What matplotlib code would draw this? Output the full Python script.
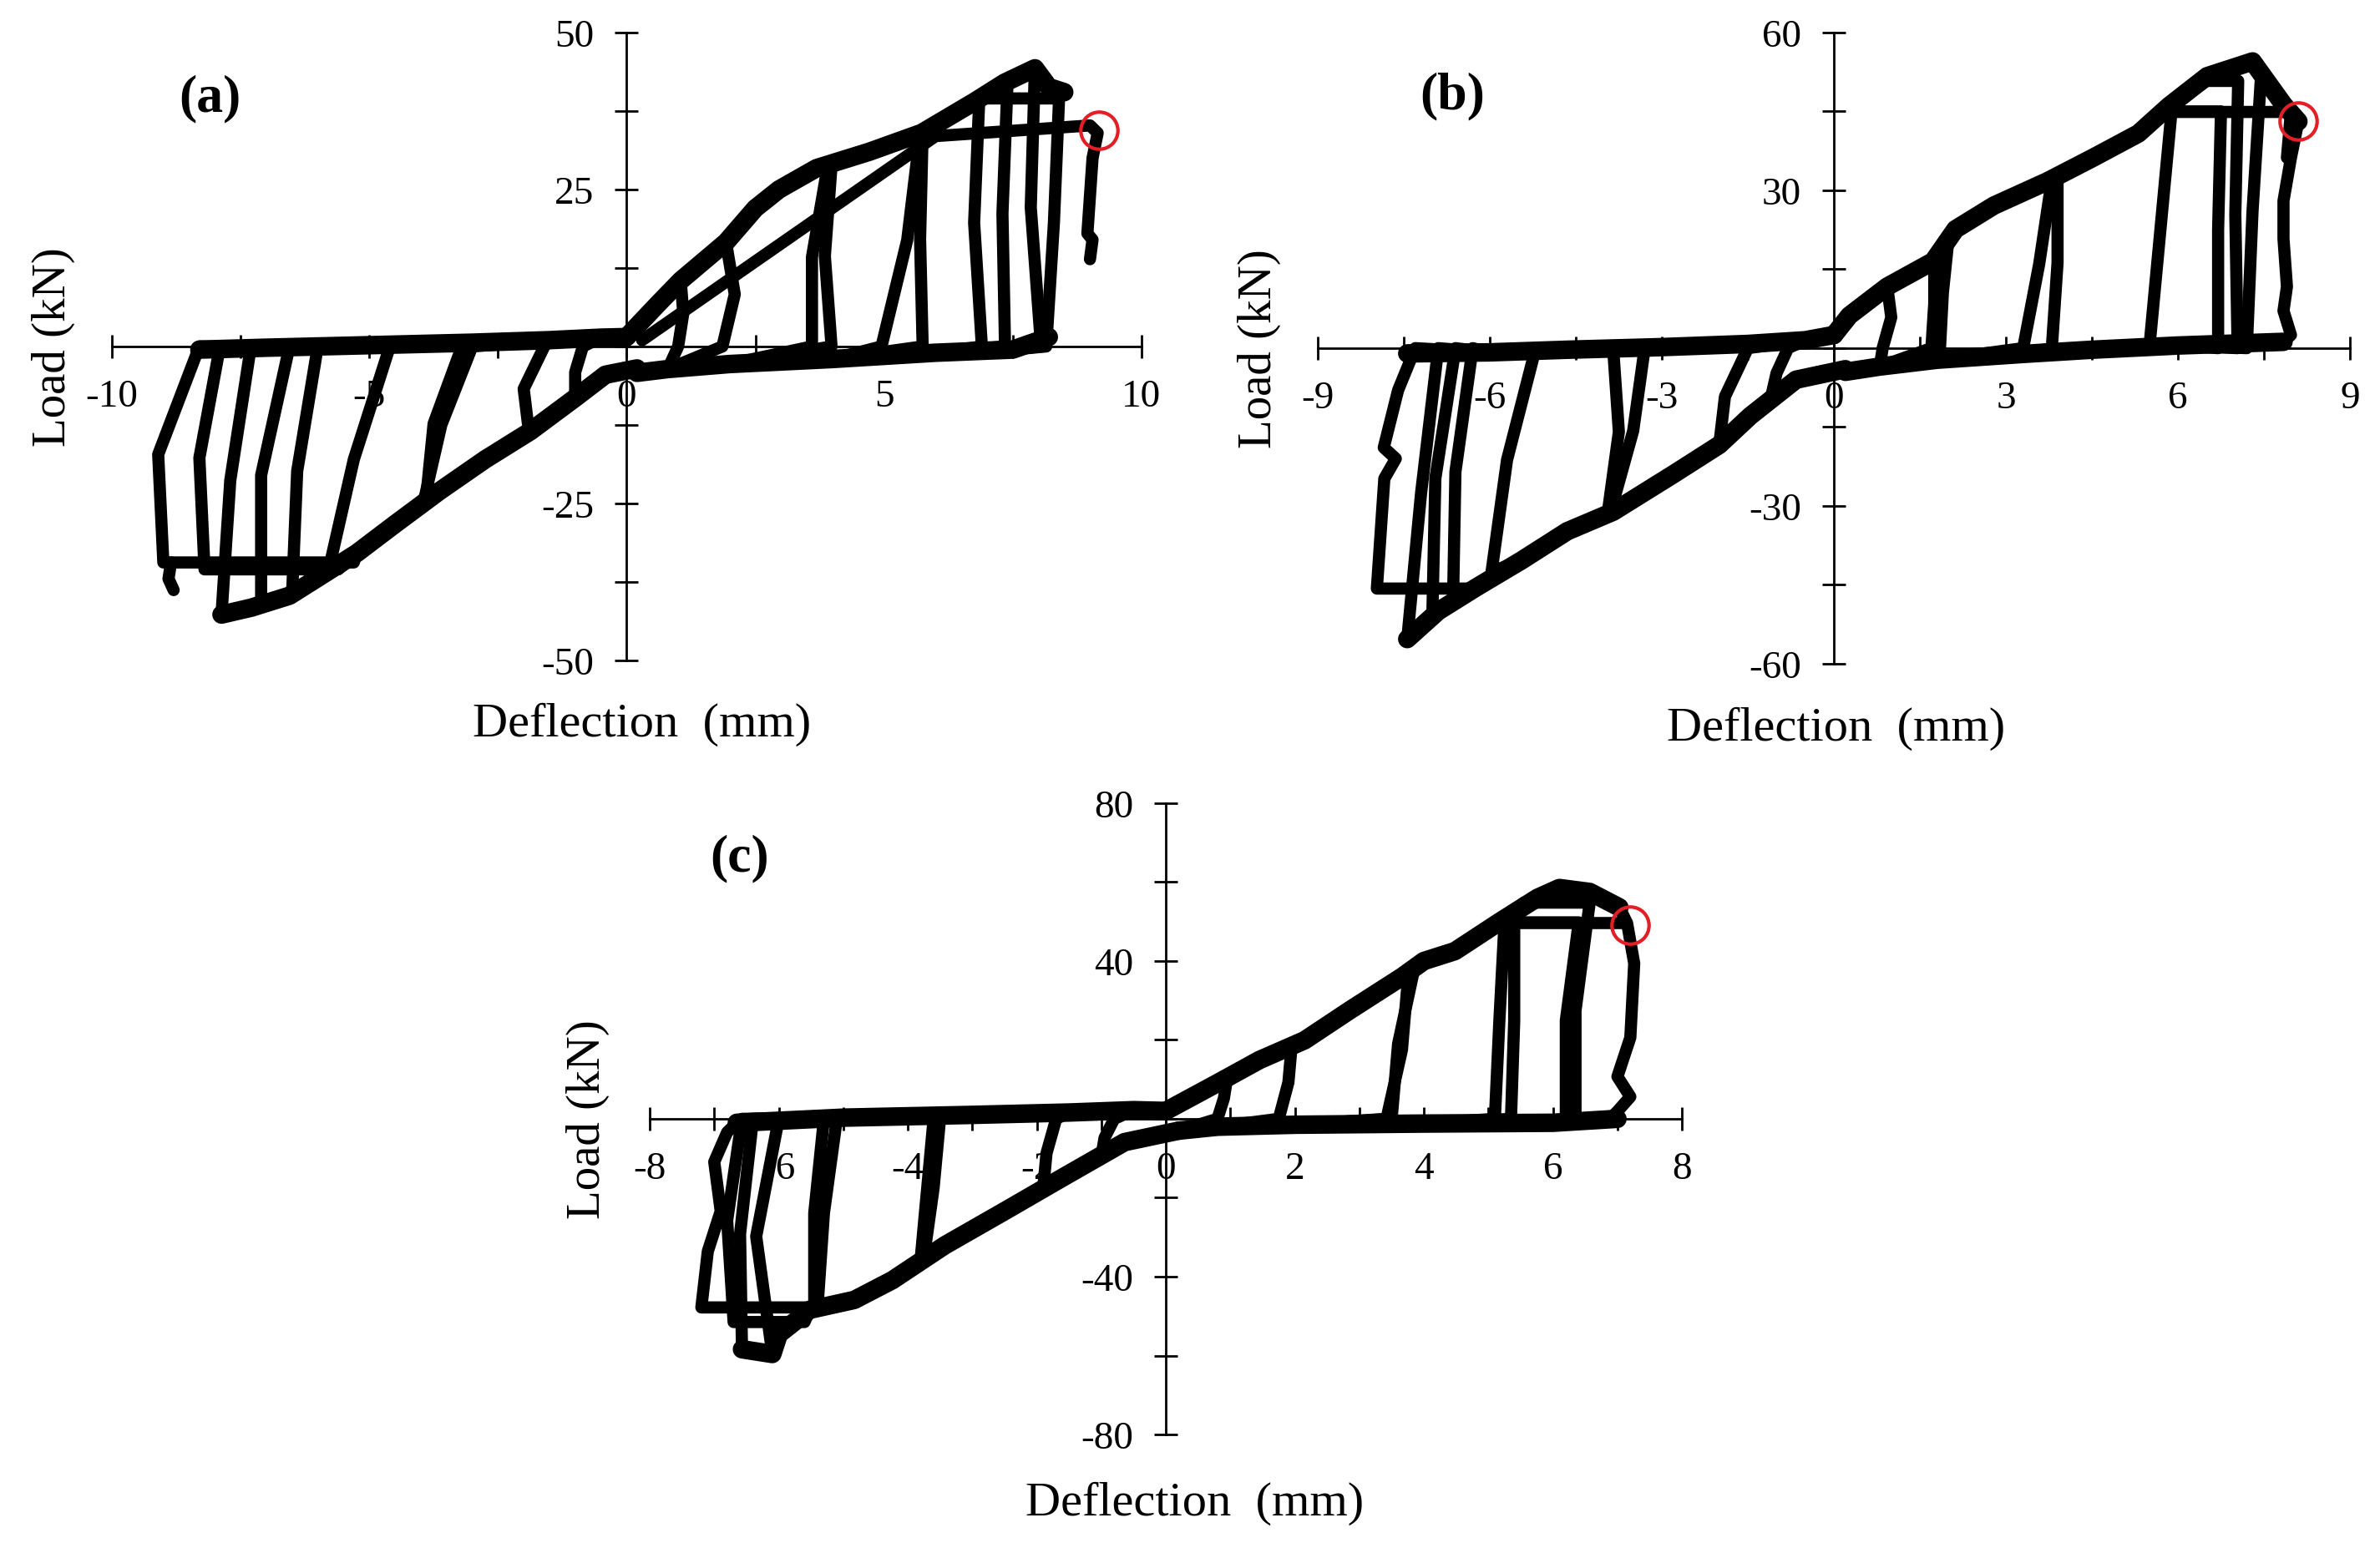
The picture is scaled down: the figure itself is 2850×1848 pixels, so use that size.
import matplotlib
matplotlib.use("Agg")
import matplotlib.pyplot as plt
from matplotlib.ticker import MultipleLocator, FuncFormatter

plt.rcParams['font.family'] = ['Liberation Serif', 'DejaVu Serif']

# ---------------- panel (a) ----------------
A_ENV_POS_X = [0.0, 0.6, 1.05, 1.93, 2.5, 2.96, 3.69, 4.71, 5.73, 6.76, 7.34, 7.93, 8.2, 8.5]
A_ENV_POS_Y = [1.5, 6.7, 10.5, 16.6, 22.0, 25.0, 28.4, 31.0, 34.0, 39.0, 42.0, 44.3, 41.3, 40.5]
A_RET_POS_X = [8.2, 7.5, 6.0, 4.0, 2.0, 0.8, 0.2]
A_RET_POS_Y = [1.5, -0.5, -1.0, -2.0, -2.8, -3.6, -4.2]
A_POS_KNEE = [1.05, 1.93, 3.9, 3.98, 5.7, 5.75, 6.85, 7.4, 7.93, 6.8]
A_POS_PEAK_X = [1.05, 1.93, 3.9, 3.98, 5.7, 5.75, 6.85, 7.4, 7.93, 8.4]
A_POS_PEAK_Y = [10.5, 16.6, 28.5, 28.8, 33.9, 34.2, 39.4, 42.3, 44.3, 39.5]
A_POS_MID_X = [1.1, 2.1, 3.6, 3.85, 5.45, 5.7, 6.75, 7.3, 7.85, 8.3]
A_POS_ZERO_X = [1.0, 1.86, 3.6, 3.98, 4.95, 5.75, 6.9, 7.35, 8.05, 8.15]
# last positive excursion: straight reload, plateau, failure
A_LAST_X = [0.3, 6.0, 9.0, 9.15, 9.05, 8.95, 9.05, 9.0]
A_LAST_Y = [1.0, 33.5, 35.2, 34.0, 30.0, 18.0, 17.0, 13.9]

A_ENV_NEG_X = [0.2, -0.41, -1.0, -1.87, -2.75, -3.63, -4.5, -5.24, -5.97, -6.55, -7.29, -7.87]
A_ENV_NEG_Y = [-3.5, -4.5, -8.2, -13.5, -18.0, -23.0, -28.3, -32.9, -36.7, -39.7, -41.6, -42.7]
A_RET_NEG_X = [-8.3, -7.0, -5.0, -3.0, -1.5, -0.5, 0.0]
A_RET_NEG_Y = [-0.5, -0.2, 0.2, 0.6, 1.0, 1.4, 1.5]
A_NEG_KNEE = [-1.0, -1.9, -3.9, -3.95, -5.8, -6.5, -7.1, -7.87, -5.6, -5.3]
A_NEG_PEAK_X = [-1.0, -1.9, -3.9, -3.95, -5.8, -6.5, -7.1, -7.87, -8.2, -9.0]
A_NEG_PEAK_Y = [-8.2, -13.5, -24.6, -25.0, -36.0, -39.7, -41.0, -42.7, -35.5, -34.4]
A_NEG_MID_X = [-1.0, -2.0, -3.75, -3.6, -5.3, -6.4, -7.1, -7.7, -8.3, -9.1]
A_NEG_ZERO_X = [-0.85, -1.6, -3.2, -3.0, -4.6, -6.0, -6.55, -7.3, -7.9, -8.3]
A_NEG_TAIL_X = [-8.85, -8.9, -8.8]
A_NEG_TAIL_Y = [-34.4, -37.0, -38.8]
A_FAIL = (9.17, 34.4)

# ---------------- panel (b) ----------------
B_ENV_POS_X = [0.0, 0.27, 0.93, 1.73, 2.12, 2.79, 3.72, 4.52, 5.31, 5.84, 6.51, 7.3, 7.84, 8.1]
B_ENV_POS_Y = [2.5, 6.2, 11.7, 16.5, 22.6, 27.1, 31.7, 36.2, 40.8, 46.0, 51.7, 54.5, 46.3, 43.1]
B_RET_POS_X = [7.84, 6.0, 4.5, 3.3, 1.8, 0.8, 0.2]
B_RET_POS_Y = [1.2, 0.5, -0.3, -1.1, -2.2, -3.5, -4.5]
B_POS_KNEE = [0.93, 1.75, 2.0, 3.8, 3.9, 5.9, 5.84, 6.5, 7.45]
B_POS_PEAK_X = [0.93, 1.75, 2.0, 3.8, 3.9, 5.9, 6.75, 7.05, 7.45]
B_POS_PEAK_Y = [11.7, 17.0, 21.0, 32.0, 32.5, 46.5, 45.0, 50.8, 52.0]
B_POS_MID_X = [1.0, 1.75, 1.9, 3.58, 3.9, 5.7, 6.7, 7.0, 7.3]
B_POS_ZERO_X = [0.85, 1.7, 1.85, 3.3, 3.8, 5.5, 6.7, 7.04, 7.2]
B_LAST_X = [8.1, 7.97, 7.84, 7.84, 7.9, 7.84, 7.97, 7.84]
B_LAST_Y = [43.1, 36.2, 28.0, 20.8, 11.7, 7.1, 2.5, 1.2]
B_PLATEAU_X = [5.84, 7.97, 7.9]
B_PLATEAU_Y = [44.9, 44.9, 36.2]

B_ENV_NEG_X = [0.2, -0.66, -1.46, -2.0, -2.79, -3.85, -4.65, -5.44, -6.24, -6.9, -7.44]
B_ENV_NEG_Y = [-4.0, -6.0, -12.9, -18.4, -23.9, -31.1, -34.8, -40.3, -45.5, -50.0, -55.3]
B_RET_NEG_X = [-7.44, -6.0, -4.65, -3.0, -1.5, -0.5, 0.0]
B_RET_NEG_Y = [-1.0, -0.8, -0.3, 0.2, 0.8, 1.5, 2.5]
B_NEG_KNEE = [-1.1, -2.0, -3.95, -3.9, -5.97, -6.64, -7.0, -7.44]
B_NEG_PEAK_X = [-1.1, -2.0, -3.95, -3.9, -5.97, -6.64, -7.0, -7.44]
B_NEG_PEAK_Y = [-9.5, -18.4, -31.8, -31.4, -42.5, -47.0, -49.5, -55.3]
B_NEG_MID_X = [-1.0, -1.9, -3.75, -3.5, -5.7, -6.6, -6.95, -7.2]
B_NEG_ZERO_X = [-0.8, -1.5, -3.85, -3.3, -5.2, -6.3, -6.6, -6.9]
B_NEG_LAST_KNEE = -6.24
B_NEG_LAST_X = [-7.97, -7.84, -7.64, -7.85, -7.6, -7.3]
B_NEG_LAST_Y = [-45.7, -24.8, -21.0, -18.9, -8.0, 0.0]
B_FAIL = (8.1, 43.1)

# ---------------- panel (c) ----------------
C_ENV_POS_X = [0.0, 0.76, 1.45, 2.15, 2.85, 3.66, 4.0, 4.48, 5.17, 5.76, 6.1, 6.57, 7.03]
C_ENV_POS_Y = [2.0, 8.7, 14.9, 19.9, 27.5, 36.0, 40.0, 42.5, 49.9, 56.0, 58.5, 57.5, 53.6]
C_RET_POS_X = [7.0, 6.0, 4.0, 2.0, 0.8, 0.2]
C_RET_POS_Y = [0.0, -1.0, -1.2, -1.5, -2.0, -3.0]
C_POS_KNEE = [0.95, 1.95, 3.75, 3.85, 5.25, 5.25, 5.25, 5.55]
C_POS_PEAK_X = [0.95, 1.95, 3.75, 3.85, 5.25, 5.4, 6.4, 6.57]
C_POS_PEAK_Y = [10.4, 18.5, 35.0, 38.0, 49.8, 49.8, 49.8, 54.8]
C_POS_MID_X = [0.9, 1.9, 3.66, 3.6, 5.17, 5.4, 6.2, 6.35]
C_POS_ZERO_X = [0.8, 1.75, 3.42, 3.5, 5.1, 5.35, 6.2, 6.35]
C_LAST_X = [7.15, 7.26, 7.2, 7.0, 7.2, 7.0, 6.9]
C_LAST_Y = [49.6, 39.4, 20.6, 10.7, 5.6, 1.9, 0.3]
C_PLATEAU_X = [5.25, 7.1]
C_PLATEAU_Y = [49.8, 49.8]

C_ENV_NEG_X = [0.2, -0.64, -1.57, -2.5, -3.43, -4.24, -4.83, -5.52, -6.0, -6.1, -6.57]
C_ENV_NEG_Y = [-3.0, -5.9, -14.6, -23.4, -32.1, -40.9, -45.9, -48.4, -54.6, -59.6, -58.4]
C_RET_NEG_X = [-6.65, -5.0, -3.0, -1.5, -0.5, 0.0]
C_RET_NEG_Y = [-1.0, 0.3, 1.0, 1.6, 2.2, 2.0]
C_NEG_KNEE = [-1.0, -1.9, -3.75, -3.8, -5.3, -5.3, -6.1, -5.6, -6.57]
C_NEG_PEAK_X = [-1.0, -1.9, -3.75, -3.8, -5.4, -5.45, -6.1, -6.7, -6.57]
C_NEG_PEAK_Y = [-9.6, -17.5, -35.1, -35.5, -47.8, -47.8, -59.6, -51.5, -58.4]
C_NEG_MID_X = [-0.95, -1.85, -3.6, -3.7, -5.3, -5.45, -6.35, -6.8, -6.6]
C_NEG_ZERO_X = [-0.8, -1.7, -3.5, -3.6, -5.1, -5.3, -6.0, -6.57, -6.4]
C_NEG_LAST_KNEE = -5.3
C_NEG_LAST_X = [-7.2, -7.1, -6.9, -7.0, -6.8, -6.65]
C_NEG_LAST_Y = [-47.8, -33.6, -23.4, -10.9, -3.4, -1.0]
C_FAIL = (7.2, 49.1)

LINE = dict(color='black', lw=10.5, solid_joinstyle='round', solid_capstyle='round',
            zorder=3, clip_on=False)
BAND = dict(LINE, lw=16)


def branch(env_x, env_y, knee, px, py, unl_x, unl_y, ret_x, ret_y, sign):
    pts = [(x, y) for x, y in zip(env_x, env_y) if sign * x < sign * knee]
    if knee != px:
        pts.append((knee, py))
    pts.append((px, py))
    pts += list(zip(unl_x, unl_y))
    end = unl_x[-1]
    pts += [(x, y) for x, y in zip(ret_x, ret_y) if sign * x < sign * end]
    xs, ys = zip(*pts)
    return xs, ys


def draw_cycles(ax, env_x, env_y, ret_x, ret_y, knee, px, py, mid, zero, sign):
    for k, x0, y0, m, z in zip(knee, px, py, mid, zero):
        xs, ys = branch(env_x, env_y, k, x0, y0, [m, z], [y0 / 2, 0], ret_x, ret_y, sign)
        ax.plot(xs, ys, **LINE)
    # overlapping reloading curves form a thick band
    ax.plot(env_x, env_y, **BAND)
    ax.plot(ret_x, ret_y, **BAND)


def style_axes(ax, xl, xmaj, xmin, yl, ymaj, ymin, label, lab_pos, xlab_pos, ylab_pos):
    ax.set_xlim(-xl, xl)
    ax.set_ylim(-yl, yl)
    for s in ['left', 'bottom']:
        ax.spines[s].set_position('zero')
        ax.spines[s].set_linewidth(2.0)
    for s in ['right', 'top']:
        ax.spines[s].set_visible(False)
    ax.xaxis.set_major_locator(MultipleLocator(xmaj))
    ax.xaxis.set_minor_locator(MultipleLocator(xmin))
    ax.yaxis.set_major_locator(MultipleLocator(ymaj))
    ax.yaxis.set_minor_locator(MultipleLocator(ymin))
    ax.xaxis.set_major_formatter(FuncFormatter(lambda v, p: f'{v:g}'))
    ax.yaxis.set_major_formatter(FuncFormatter(lambda v, p: '' if v == 0 else f'{v:g}'))
    ax.tick_params(which='both', direction='inout', length=20, width=2.0, labelsize=34)
    ax.tick_params(axis='x', pad=18)
    ax.tick_params(axis='y', pad=18)
    ax.set_xlabel('Deflection  (mm)', fontsize=42)
    ax.set_ylabel('Load (kN)', fontsize=41)
    ax.xaxis.set_label_coords(*xlab_pos)
    ax.yaxis.set_label_coords(*ylab_pos)
    ax.text(lab_pos[0], lab_pos[1], label, transform=ax.transAxes, fontsize=46,
            fontweight='bold', ha='center', va='center')


fig = plt.figure(figsize=(28.5, 18.49), dpi=100)
ax_a = fig.add_axes([0.0470, 0.5717, 0.4326, 0.4067])
ax_b = fig.add_axes([0.5537, 0.5695, 0.4337, 0.4089])
ax_c = fig.add_axes([0.2730, 0.0703, 0.4337, 0.4089])

FAIL_MARK = dict(marker='o', ms=32, mfc='none', mec='#e31e24', mew=3, zorder=5, ls='none')

# (a)
draw_cycles(ax_a, A_ENV_POS_X, A_ENV_POS_Y, A_RET_POS_X, A_RET_POS_Y,
            A_POS_KNEE, A_POS_PEAK_X, A_POS_PEAK_Y, A_POS_MID_X, A_POS_ZERO_X, 1)
draw_cycles(ax_a, A_ENV_NEG_X, A_ENV_NEG_Y, A_RET_NEG_X, A_RET_NEG_Y,
            A_NEG_KNEE, A_NEG_PEAK_X, A_NEG_PEAK_Y, A_NEG_MID_X, A_NEG_ZERO_X, -1)
ax_a.plot(A_LAST_X, A_LAST_Y, **LINE)
ax_a.plot(A_NEG_TAIL_X, A_NEG_TAIL_Y, **LINE)
ax_a.plot([A_FAIL[0]], [A_FAIL[1]], **FAIL_MARK)
style_axes(ax_a, 10, 5, 2.5, 50, 25, 12.5, '(a)', (0.095, 0.896), (0.515, -0.066), (-0.036, 0.5))

# (b)
draw_cycles(ax_b, B_ENV_POS_X, B_ENV_POS_Y, B_RET_POS_X, B_RET_POS_Y,
            B_POS_KNEE, B_POS_PEAK_X, B_POS_PEAK_Y, B_POS_MID_X, B_POS_ZERO_X, 1)
xs, ys = branch(B_ENV_POS_X, B_ENV_POS_Y, B_LAST_X[0], B_LAST_X[0], B_LAST_Y[0],
                B_LAST_X[1:], B_LAST_Y[1:], B_RET_POS_X, B_RET_POS_Y, 1)
ax_b.plot(xs, ys, **LINE)
ax_b.plot(B_PLATEAU_X, B_PLATEAU_Y, **LINE)
draw_cycles(ax_b, B_ENV_NEG_X, B_ENV_NEG_Y, B_RET_NEG_X, B_RET_NEG_Y,
            B_NEG_KNEE, B_NEG_PEAK_X, B_NEG_PEAK_Y, B_NEG_MID_X, B_NEG_ZERO_X, -1)
xs, ys = branch(B_ENV_NEG_X, B_ENV_NEG_Y, B_NEG_LAST_KNEE, B_NEG_LAST_X[0], B_NEG_LAST_Y[0],
                B_NEG_LAST_X[1:], B_NEG_LAST_Y[1:], B_RET_NEG_X, B_RET_NEG_Y, -1)
ax_b.plot(xs, ys, **LINE)
ax_b.plot([B_FAIL[0]], [B_FAIL[1]], **FAIL_MARK)
style_axes(ax_b, 9, 3, 1.5, 60, 30, 15, '(b)', (0.13, 0.90), (0.502, -0.067), (-0.036, 0.5))

# (c)
draw_cycles(ax_c, C_ENV_POS_X, C_ENV_POS_Y, C_RET_POS_X, C_RET_POS_Y,
            C_POS_KNEE, C_POS_PEAK_X, C_POS_PEAK_Y, C_POS_MID_X, C_POS_ZERO_X, 1)
xs, ys = branch(C_ENV_POS_X, C_ENV_POS_Y, 7.03, 7.03, 53.6,
                C_LAST_X, C_LAST_Y, C_RET_POS_X, C_RET_POS_Y, 1)
ax_c.plot(xs, ys, **LINE)
ax_c.plot(C_PLATEAU_X, C_PLATEAU_Y, **LINE)
draw_cycles(ax_c, C_ENV_NEG_X, C_ENV_NEG_Y, C_RET_NEG_X, C_RET_NEG_Y,
            C_NEG_KNEE, C_NEG_PEAK_X, C_NEG_PEAK_Y, C_NEG_MID_X, C_NEG_ZERO_X, -1)
xs, ys = branch(C_ENV_NEG_X, C_ENV_NEG_Y, C_NEG_LAST_KNEE, C_NEG_LAST_X[0], C_NEG_LAST_Y[0],
                C_NEG_LAST_X[1:], C_NEG_LAST_Y[1:], C_RET_NEG_X, C_RET_NEG_Y, -1)
ax_c.plot(xs, ys, **LINE)
ax_c.plot([C_FAIL[0]], [C_FAIL[1]], **FAIL_MARK)
style_axes(ax_c, 8, 2, 1, 80, 40, 20, '(c)', (0.087, 0.913), (0.528, -0.073), (-0.039, 0.5))

fig.savefig('out.png', dpi=100)
